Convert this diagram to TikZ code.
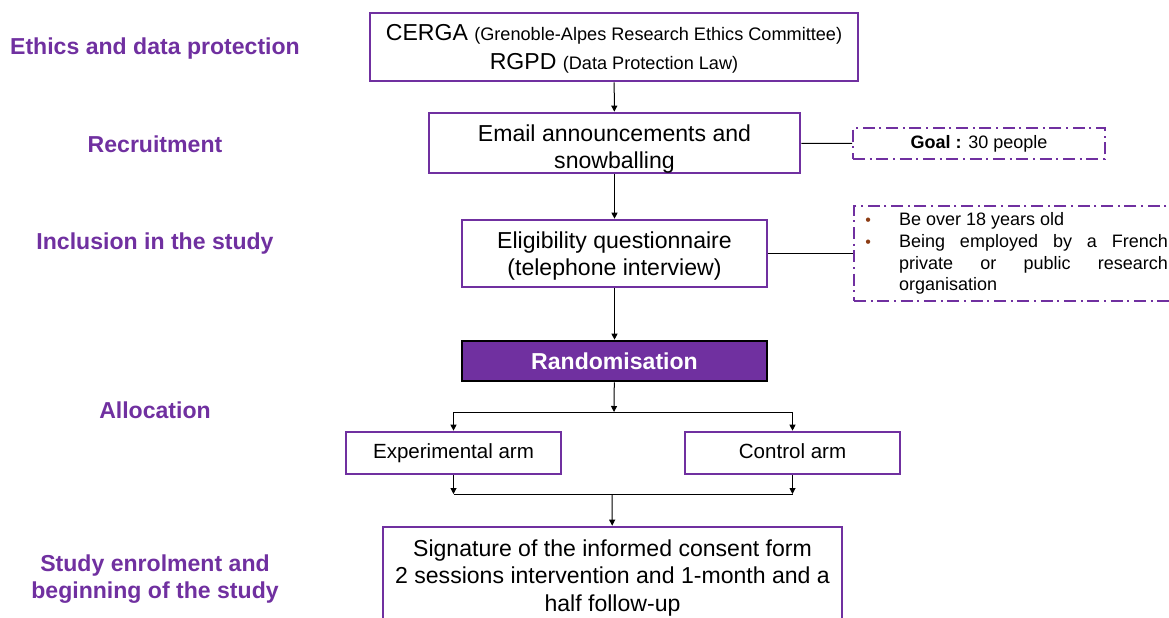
\documentclass[tikz,border=0pt]{standalone}
\usepackage{fontspec}
\setmainfont{Liberation Sans}
\usetikzlibrary{arrows.meta}
\definecolor{trialpurple}{RGB}{112,48,160}
\definecolor{bulletbrown}{RGB}{140,60,20}
\newcommand\critbullet{\noindent\llap{\textcolor{bulletbrown}{\fontsize{12}{12}\selectfont\textbullet}\hspace{21pt}}}

\begin{document}
\begin{tikzpicture}[x=0.75pt,y=-0.75pt,
  stage/.style={font=\bfseries\fontsize{17.3}{20.3}\selectfont, text=trialpurple,
    align=center, text depth=0pt},
  box/.style={draw=trialpurple, line width=2pt, align=center, inner sep=2pt,
    text depth=0pt, font=\fontsize{17.3}{20.3}\selectfont},
  armbox/.style={box, text height=11.5pt, text depth=3.5pt, font=\fontsize{15.4}{18}\selectfont},
  notebox/.style={draw=trialpurple, line width=1.5pt,
    dash pattern=on 9pt off 3.5pt on 1.5pt off 3.5pt,
    font=\fontsize{13.5}{16.3}\selectfont},
  link/.style={line width=0.75pt},
  arr/.style={link, -{Triangle[length=4.5pt,width=4.5pt]}}]
\useasboundingbox (0,0) rectangle (1169,617);
% stages on the left
\node [stage] (ethicslbl) at (155,46) {Ethics and data protection};
\node [stage] (recruitlbl) at (155,144) {Recruitment};
\node [stage] (inclusionlbl) at (155,241) {Inclusion in the study};
\node [stage] (allocationlbl) at (155,410) {Allocation};
\node [stage] (enrollbl) at (155,577) {Study enrolment and\\beginning of the study};
% main flow
\node [box, minimum width=366pt, minimum height=51pt] (ethics) at (614,47)
  {CERGA {\fontsize{13.6}{16}\selectfont (Grenoble-Alpes Research Ethics Committee)}\\[1.5pt]
   RGPD {\fontsize{13.6}{16}\selectfont (Data Protection Law)}};
\node [box, minimum width=278.25pt, minimum height=45pt, text height=38pt] (recruit) at (614.5,143)
  {Email announcements and\\snowballing};
\node [box, minimum width=228.75pt, minimum height=50.25pt] (elig) at (614.5,253.5)
  {Eligibility questionnaire\\(telephone interview)};
\node [draw=black, line width=2pt, fill=trialpurple, text=white, minimum width=228.75pt,
  minimum height=30pt, font=\bfseries\fontsize{17.3}{20.3}\selectfont] (random) at (614.5,361)
  {Randomisation};
\node [armbox, minimum width=161.25pt, minimum height=31.5pt] (exparm) at (453.5,453)
  {Experimental arm};
\node [armbox, minimum width=161.25pt, minimum height=31.5pt] (ctrlarm) at (792.5,453)
  {Control arm};
\node [box, minimum width=344.25pt, minimum height=72.75pt,
  font=\fontsize{17.3}{20.6}\selectfont] (consent) at (612.5,575.5)
  {Signature of the informed consent form\\2 sessions intervention and 1-month and a\\half follow-up};
% side notes
\node [notebox, minimum width=189pt, minimum height=23.25pt] (goal) at (979,143.5)
  {\textbf{Goal :} 30 people};
\node [notebox, anchor=north west, minimum width=245.25pt, minimum height=71.25pt,
  inner sep=0pt] (criteria) at (853,205)
  {\parbox{245.25pt}{\leftskip=33.75pt \rightskip=9.75pt
   \critbullet Be over 18 years old\par
   \critbullet Being employed by a French\linebreak private or public research\linebreak organisation\par}};
% connectors
\coordinate (split) at (614,412);
\coordinate (merge) at (612,494);
\coordinate (expend) at (453.5,494);
\coordinate (ctrlend) at (792.5,494);
\draw [arr] (ethics) -- (recruit);
\draw [arr] (recruit) -- (elig);
\draw [link] (recruit) -- (goal);
\draw [link] (elig) -- (criteria.west);
\draw [arr] (elig) -- (random);
\draw [arr] (random) -- (split);
\draw [arr] (split) -| (exparm);
\draw [arr] (split) -| (ctrlarm);
\draw [arr] (exparm) -- (expend);
\draw [arr] (ctrlarm) -- (ctrlend);
\draw [link] (expend) -- (ctrlend);
\draw [arr] (merge) -- (consent);
\end{tikzpicture}
\end{document}
